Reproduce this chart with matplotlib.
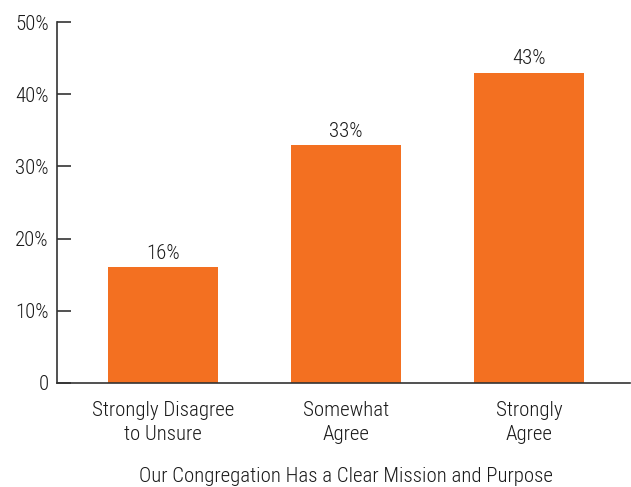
import matplotlib
matplotlib.use("Agg")
import matplotlib.pyplot as plt
from matplotlib import font_manager
from matplotlib.transforms import blended_transform_factory

categories = ["Strongly Disagree\nto Unsure", "Somewhat\nAgree", "Strongly\nAgree"]
values = [16, 33, 43]
yticks = [0, 10, 20, 30, 40, 50]
ytick_labels = ["0", "10%", "20%", "30%", "40%", "50%"]
title = "Our Congregation Has a Clear Mission and Purpose"

# condensed face like the original, falling back to what is there
names = {f.name for f in font_manager.fontManager.ttflist}
wanted = ["Roboto Condensed", "Liberation Sans Narrow", "Archivo Narrow",
          "PT Sans Narrow", "Sofia Sans Semi Condensed", "Roboto"]
family = next((n for n in wanted if n in names), "DejaVu Sans")
plt.rcParams["font.family"] = [family, "DejaVu Sans"]
plt.rcParams["font.weight"] = "light"

orange = "#F37021"
dark = "#333333"
text_color = "#1a1a1a"
fs = 15

fig = plt.figure(figsize=(6.31, 4.87), dpi=100)
ax = fig.add_axes([0.0903, 0.2136, 0.9077, 0.7412])

x = list(range(len(values)))
ax.bar(x, values, width=0.6, color=orange)
for xi, v in zip(x, values):
    ax.annotate(f"{v}%", (xi, v), xytext=(0, 3), textcoords="offset points",
                ha="center", va="bottom", fontsize=fs, color=text_color)

ax.set_xlim(-0.578, 2.55)
ax.set_ylim(0, 50)
ax.set_yticks(yticks)
ax.set_yticklabels(ytick_labels, fontsize=fs, color=text_color)
ax.set_xticks(x)
ax.set_xticklabels(categories, fontsize=fs, color=text_color, linespacing=1.35)
ax.tick_params(axis="x", length=0, pad=13)
ax.tick_params(axis="y", direction="in", length=10, width=1.2, color=dark, pad=6)

for side in ["top", "right"]:
    ax.spines[side].set_visible(False)
for side in ["left", "bottom"]:
    ax.spines[side].set_color(dark)
    ax.spines[side].set_linewidth(1.2)

trans = blended_transform_factory(ax.transData, fig.transFigure)
ax.text(1, 0.003, title, transform=trans, ha="center", va="bottom",
        fontsize=fs, color=text_color)

fig.savefig("out.png", dpi=100)
